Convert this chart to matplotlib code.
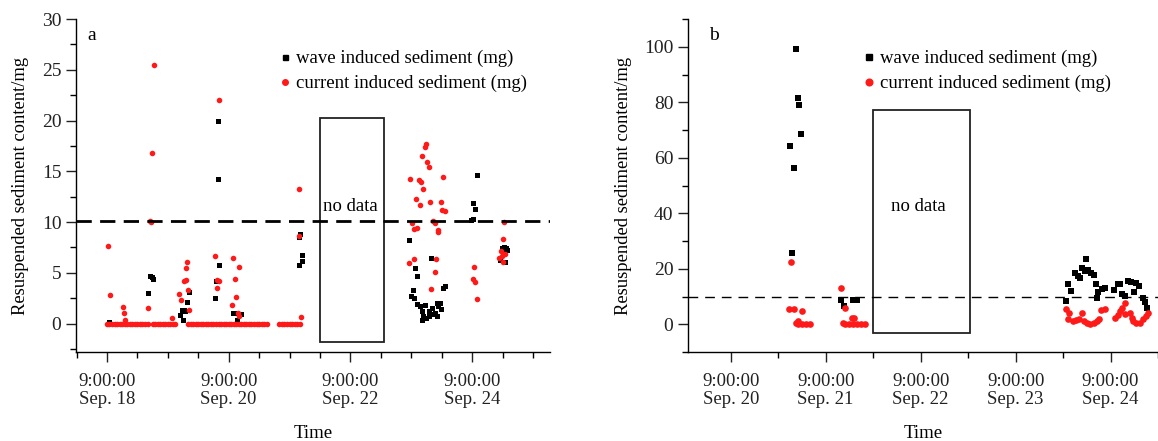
import numpy as np
import pandas as pd
import matplotlib
matplotlib.use('Agg')
import matplotlib.pyplot as plt
from matplotlib.lines import Line2D
from matplotlib.patches import Rectangle
from matplotlib.ticker import MultipleLocator, FuncFormatter

# ===== DATA =====
# panel a: hours after Sep. 18 09:00
wave_a_t = [0.7, 16.3, 17.0, 18.0, 17.6, 28.8, 29.5, 30.3, 30.9, 31.7, 32.4, 30.1,
            42.5, 42.9, 44.2, 43.7, 43.8, 49.7, 50.1, 51.4, 53.0,
            76.0, 75.8, 77.0, 76.8, 75.6,
            119.2, 121.3, 122.2, 127.7, 120.5, 119.9, 121.0, 122.2, 123.5, 125.5,
            124.4, 126.8, 128.1, 130.3, 130.7, 131.7, 132.7, 133.4, 126.8, 124.8,
            124.2, 125.8, 128.1, 129.2, 131.3, 130.0,
            145.8, 144.2, 145.2, 144.5, 143.6,
            155.6, 156.7, 157.4, 156.2, 157.0, 155.0, 157.6]
wave_a_v = [0.2, 3.0, 4.7, 4.4, 4.6, 0.8, 1.3, 1.3, 1.2, 2.1, 3.1, 0.4,
            2.5, 4.2, 5.8, 14.2, 20.0, 1.0, 1.05, 0.4, 0.9,
            8.85, 8.5, 6.8, 6.2, 5.8,
            8.2, 5.5, 4.7, 6.5, 3.3, 2.7, 2.5, 1.9, 1.7, 1.8,
            1.2, 1.2, 1.5, 2.0, 1.7, 1.4, 3.5, 3.7, 0.7, 0.7,
            0.4, 0.55, 0.9, 1.0, 2.0, 0.7,
            14.6, 11.9, 11.3, 10.3, 10.2,
            7.4, 7.5, 7.4, 7.0, 6.1, 6.3, 7.2]

current_a_t = [0.5, 1.2, 6.2, 6.8, 7.0, 16.3, 17.0, 17.3, 17.7, 18.4, 25.8,
               28.4, 29.1, 30.4, 31.1, 31.2, 31.7, 32.0, 32.4,
               42.6, 43.2, 43.5, 44.3, 44.2, 49.4, 49.8, 50.4, 50.7, 51.5, 52.1, 52.1,
               75.7, 75.9, 76.7,
               125.9, 125.5, 124.2, 126.3, 126.8, 119.6, 122.9, 123.7, 124.8, 132.4,
               121.8, 123.3, 127.2, 131.6, 132.0, 133.4, 120.3, 120.9, 122.2, 128.4,
               129.2, 130.5, 130.5, 119.2, 121.2, 129.8, 129.2, 127.7,
               144.8, 144.2, 145.2, 145.8,
               156.7, 156.0, 155.4, 155.6, 154.7, 157.0, 156.0]
current_a_v = [7.6, 2.85, 1.6, 1.05, 0.4, 1.55, 10.1, 10.0, 16.8, 25.5, 0.5,
               2.9, 2.3, 4.2, 5.5, 4.3, 6.1, 3.3, 1.3,
               6.7, 3.5, 4.3, 4.2, 22.0, 1.8, 6.5, 4.4, 2.6, 1.0, 5.6, 0.7,
               8.6, 13.3, 0.65,
               17.7, 17.4, 16.5, 15.9, 15.4, 14.2, 14.1, 13.9, 13.3, 14.4,
               12.3, 11.7, 12.0, 12.0, 11.2, 11.1, 9.9, 9.3, 9.4, 10.1,
               9.9, 9.2, 9.0, 6.0, 6.4, 6.4, 5.1, 3.4,
               5.6, 4.4, 4.1, 2.4,
               10.0, 8.3, 7.1, 6.7, 6.5, 6.9, 6.1]
# hourly records with zero current induced sediment (start, end hour)
current_a_zero_runs = [(0, 16), (18, 27), (32, 43), (44, 63), (68, 76)]

# panel b: hours after Sep. 20 09:00
wave_b_t = [16.4, 16.9, 17.3, 17.8, 14.9, 15.9, 15.4, 27.8, 28.7, 30.8, 31.8,
            84.8, 85.2, 86.1, 86.9, 87.7, 88.3, 88.7, 89.6, 89.8, 90.4,
            91.0, 91.7, 92.3, 92.7, 92.9, 93.8, 94.6, 97.0, 97.9, 98.5,
            98.9, 99.7, 100.4, 101.1, 101.9, 102.5, 103.1, 104.2, 104.6, 105.3]
wave_b_v = [99.2, 81.5, 79.1, 68.5, 64.1, 56.4, 25.5, 8.6, 6.4, 8.6, 8.6,
            8.2, 14.4, 12.0, 18.3, 17.4, 16.8, 20.4, 19.2, 23.4, 19.5,
            18.3, 17.6, 14.4, 9.6, 11.6, 12.6, 13.2, 12.3, 14.6, 14.4,
            10.8, 10.2, 15.6, 15.2, 11.6, 14.7, 13.8, 9.6, 8.0, 6.0]

current_b_t = [15.3, 14.7, 15.9, 17.9, 16.4, 17.0, 27.9, 28.9, 28.3, 30.6, 31.1,
               84.8, 85.5, 85.2, 86.4, 87.2, 88.1, 88.7, 89.2, 90.0, 90.9,
               91.7, 92.5, 93.1, 93.6, 94.6, 97.1, 97.9, 98.4, 98.9, 99.6,
               99.6, 100.9, 101.4, 101.7, 102.5, 103.4, 104.2, 104.9, 105.5]
current_b_v = [22.3, 5.4, 5.4, 4.8, 0.6, 1.2, 13.2, 5.9, 0.6, 2.4, 2.3,
               5.4, 4.0, 1.8, 1.2, 1.5, 1.8, 4.2, 1.2, 0.6, 0.0,
               0.4, 1.2, 1.8, 5.1, 5.4, 2.4, 3.2, 4.8, 6.0, 7.8,
               3.6, 4.2, 2.4, 1.2, 0.6, 0.6, 1.8, 3.0, 4.0]
current_b_zero_runs = [(17, 20), (29, 34)]

threshold_a = 10.15
threshold_b = 9.7
# ===== DATA =====

plt.rcParams['font.family'] = 'Liberation Serif'
plt.rcParams['axes.linewidth'] = 1.0
RED = '#ff1a1a'


def expand(t, v, runs):
    t = list(t)
    v = list(v)
    for a, b in runs:
        hrs = np.arange(a, b + 1)
        t += list(hrs)
        v += [0.0] * len(hrs)
    return t, v


def date_label(start_day):
    def fmt(x, pos):
        day = start_day + int(round(x / 24.0))
        return '9:00:00\nSep. %d' % day
    return FuncFormatter(fmt)


def style_axes(ax):
    for s in ['top', 'right']:
        ax.spines[s].set_visible(False)
    ax.tick_params(which='major', direction='out', length=7, width=1.0,
                   labelsize=14, colors='#222222')
    ax.tick_params(which='minor', direction='out', length=4, width=1.0)
    ax.tick_params(axis='x', which='major', pad=8, labelsize=13.5)
    for lbl in ax.get_xticklabels():
        lbl.set_linespacing(1.1)
    ax.set_xlabel('Time', fontsize=13.5, labelpad=12)
    ax.set_ylabel('Resuspended sediment content/mg', fontsize=13.4, labelpad=9)


fig = plt.figure(figsize=(11.58, 4.41), dpi=100)
labels = ['wave induced sediment (mg)', 'current induced sediment (mg)']

# ----- panel a -----
ax = fig.add_axes([76 / 1158, 1 - 352 / 441, (550 - 76) / 1158, (352 - 19) / 441])
ca_t, ca_v = expand(current_a_t, current_a_v, current_a_zero_runs)
ax.plot(wave_a_t, wave_a_v, 's', color='black', markersize=3.6, markeredgewidth=0)
ax.plot(ca_t, ca_v, 'o', color=RED, markersize=4.0, markeredgewidth=0)
ax.axhline(threshold_a, color='black', lw=2.0, dashes=(5.5, 3.0))
ax.add_patch(Rectangle((84, -1.8), 25.2, 22.0, facecolor='none', edgecolor='#222222', lw=1.3))
ax.text(96, 11.5, 'no data', ha='center', va='center', fontsize=13.5)
ax.text(0.025, 0.95, 'a', transform=ax.transAxes, fontsize=14, va='center')
ax.set_xlim(-12.2, 174.7)
ax.set_ylim(-2.8, 30)
ax.xaxis.set_major_locator(MultipleLocator(48))
ax.xaxis.set_minor_locator(MultipleLocator(12))
ax.xaxis.set_major_formatter(date_label(18))
ax.yaxis.set_major_locator(MultipleLocator(5))
ax.yaxis.set_minor_locator(MultipleLocator(2.5))
style_axes(ax)
handles = [Line2D([], [], ls='none', marker='s', color='black', markersize=3.6),
           Line2D([], [], ls='none', marker='o', color=RED, markersize=4.0)]
ax.legend(handles, labels, loc='upper left', bbox_to_anchor=(279 / 1158, 1 - 50 / 441),
          bbox_transform=fig.transFigure, frameon=False, fontsize=13.5,
          handlelength=0.6, handletextpad=0.3, labelspacing=0.4,
          borderpad=0, borderaxespad=0)

# ----- panel b -----
bx = fig.add_axes([688 / 1158, 1 - 352 / 441, (1158 - 688) / 1158, (352 - 19) / 441])
cb_t, cb_v = expand(current_b_t, current_b_v, current_b_zero_runs)
bx.plot(wave_b_t, wave_b_v, 's', color='black', markersize=4.5, markeredgewidth=0)
bx.plot(cb_t, cb_v, 'o', color=RED, markersize=4.8, markeredgewidth=0)
bx.axhline(threshold_b, color='black', lw=1.0, dashes=(7, 5))
bx.add_patch(Rectangle((36, -3), 24.5, 80.3, facecolor='none', edgecolor='#222222', lw=1.3))
bx.text(47.5, 42.4, 'no data', ha='center', va='center', fontsize=13.5)
bx.text(0.045, 0.95, 'b', transform=bx.transAxes, fontsize=14, va='center')
bx.set_xlim(-10.8, 108)
bx.set_ylim(-10, 110)
bx.xaxis.set_major_locator(MultipleLocator(24))
bx.xaxis.set_minor_locator(MultipleLocator(12))
bx.xaxis.set_major_formatter(date_label(20))
bx.yaxis.set_major_locator(MultipleLocator(20))
bx.yaxis.set_minor_locator(MultipleLocator(10))
style_axes(bx)
handles_b = [Line2D([], [], ls='none', marker='s', color='black', markersize=4.5),
             Line2D([], [], ls='none', marker='o', color=RED, markersize=4.8)]
bx.legend(handles_b, labels, loc='upper left', bbox_to_anchor=(863 / 1158, 1 - 50 / 441),
          bbox_transform=fig.transFigure, frameon=False, fontsize=13.5,
          handlelength=0.6, handletextpad=0.3, labelspacing=0.4,
          borderpad=0, borderaxespad=0)

fig.savefig('out.png', dpi=100)
